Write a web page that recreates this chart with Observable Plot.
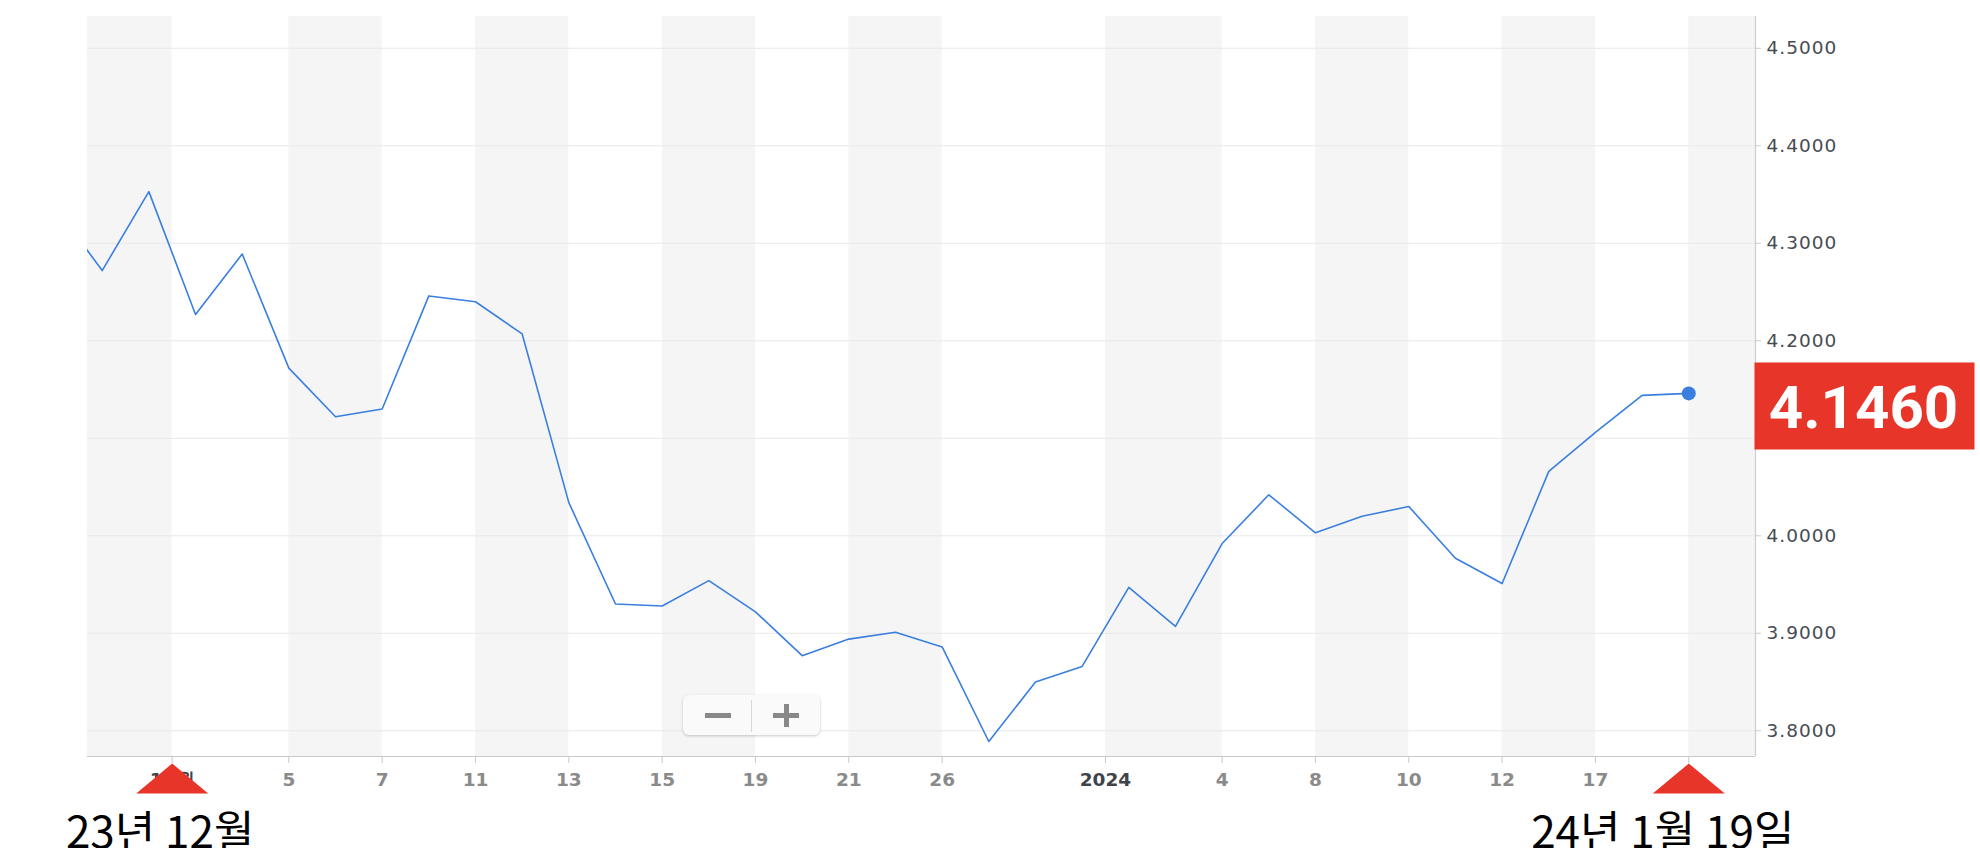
<!DOCTYPE html>
<html>
<head>
<meta charset="utf-8">
<script src="https://cdn.jsdelivr.net/npm/d3@7"></script>
<script src="https://cdn.jsdelivr.net/npm/@observablehq/plot@0.6"></script>
<style>
html,body{margin:0;padding:0;background:#fff;overflow:hidden;}
#wrap{position:relative;width:1980px;height:848px;overflow:hidden;}
#wrap svg{display:block;}
g[aria-label="y-axis tick label"] text{letter-spacing:1px;}
.zoomctl{position:absolute;left:683px;top:695px;width:137px;height:40px;background:#fafafa;border-radius:6px;box-shadow:0 1px 3px rgba(0,0,0,0.22);}
.zoomctl .div{position:absolute;left:68px;top:5px;width:1px;height:32px;background:#d8d8d8;}
.zoomctl .minus{position:absolute;left:22px;top:18px;width:26px;height:5px;background:#888;}
.zoomctl .plusH{position:absolute;left:90px;top:18px;width:26px;height:5px;background:#888;}
.zoomctl .plusV{position:absolute;left:100.5px;top:9px;width:5px;height:23px;background:#888;}
</style>
</head>
<body>
<div id="wrap"></div>
<script>
// Trading days (MM-DD), Nov 28 2023 .. Jan 19 2024
const dates = ["11-28","11-29","11-30","12-01","12-04","12-05","12-06","12-07","12-08","12-11",
  "12-12","12-13","12-14","12-15","12-18","12-19","12-20","12-21","12-22","12-26",
  "12-27","12-28","12-29","01-02","01-03","01-04","01-05","01-08","01-09","01-10",
  "01-11","01-12","01-16","01-17","01-18","01-19"];
const values = [4.337,4.272,4.353,4.227,4.289,4.172,4.122,4.130,4.246,4.240,
  4.207,4.034,3.930,3.928,3.954,3.922,3.877,3.894,3.901,3.886,
  3.789,3.850,3.866,3.947,3.907,3.992,4.042,4.003,4.020,4.030,
  3.977,3.951,4.066,4.106,4.144,4.146];
const dayTickDates = ["12-05","12-07","12-11","12-13","12-15","12-19","12-21","12-26",
  "01-04","01-08","01-10","01-12","01-17","01-19"];
const dayTickLabels = ["5","7","11","13","15","19","21","26","4","8","10","12","17","19"];
const periodLabels = ["12월","2024"];
const yTicks = [3.8,3.9,4.0,4.1,4.2,4.3,4.4,4.5];
const rangeLabels = ["23년 12월","24년 1월 19일"];

const xDomain = [0.685, 36.43];
const yDomain = [3.7736, 4.5326];

const data = dates.map((d,i)=>({i, date:d, v:values[i]}));
const last = data[data.length-1];

// month/year boundaries: between consecutive trading days of different months
const boundaryPos = [];
for (let i=1;i<dates.length;i++) if (dates[i].slice(0,2)!==dates[i-1].slice(0,2)) boundaryPos.push(i-0.5);
const dayTickPos = dayTickDates.map(d=>dates.indexOf(d));
const dayMap = new Map(dayTickPos.map((p,k)=>[p, dayTickLabels[k]]));
const perMap = new Map(boundaryPos.map((p,k)=>[p, periodLabels[k]]));

// alternating bands between ticks
const allTicks = [...boundaryPos, ...dayTickPos].sort((a,b)=>a-b);
const edges = [xDomain[0], ...allTicks, xDomain[1]];
const bands = [];
for (let k=0;k<edges.length-1;k+=2) bands.push({a:edges[k], b:edges[k+1]});

const rangeMarks = [
  {pos: boundaryPos[0], label: rangeLabels[0]},
  {pos: dates.length-1, label: rangeLabels[1]}
];

const flatTri = {draw(ctx){ ctx.moveTo(0,-15); ctx.lineTo(36,15); ctx.lineTo(-36,15); ctx.closePath(); }};
const boxSym = {draw(ctx){ ctx.rect(-1,-31,220,87); }};

const RED = "#e8352a", BLUE = "#3a7fdf";
// y labels hidden behind the current-value box
const hiddenByBox = d => d > last.v - 0.07 && d < last.v + 0.03;

const chart = Plot.plot({
  width: 1980, height: 848,
  marginLeft: 87, marginRight: 225, marginTop: 16, marginBottom: 92,
  style: {fontFamily: "DejaVu Sans", background: "#fff", overflow: "visible"},
  x: {type: "linear", domain: xDomain},
  y: {domain: yDomain},
  marks: [
    Plot.rect(bands, {x1:"a", x2:"b", fill:"#f5f5f5"}),
    Plot.ruleY(yTicks, {stroke:"#e8e8e8", strokeWidth:1}),
    Plot.ruleY([yDomain[0]], {stroke:"#c6c9cd", strokeWidth:1.2}),
    Plot.ruleX([xDomain[1]], {stroke:"#cdcdcd", strokeWidth:1.2}),
    Plot.axisY(yTicks, {anchor:"right", tickSize:5, tickPadding:6,
      tickFormat:d=>hiddenByBox(d) ? "" : d.toFixed(4),
      fontSize:18.5, fill:"#474c52", stroke:"#cdcdcd", label:null}),
    Plot.axisX(dayTickPos, {anchor:"bottom", tickSize:7, tickPadding:9, tickFormat:d=>dayMap.get(d),
      fontSize:18.5, fontWeight:"bold", fill:"#8a8a8a", stroke:"#c6c9cd", label:null}),
    Plot.axisX(boundaryPos, {anchor:"bottom", tickSize:7, tickPadding:9, tickFormat:d=>perMap.get(d),
      fontSize:18.5, fontWeight:"bold", fill:"#3f444a", stroke:"#c6c9cd", label:null}),
    Plot.line(data, {x:"i", y:"v", stroke:BLUE, strokeWidth:1.6, clip:true}),
    Plot.dot([last], {x:"i", y:"v", r:7, fill:BLUE}),
    Plot.dot([last], {y:"v", frameAnchor:"right", symbol:boxSym, fill:RED}),
    Plot.text([last], {y:"v", frameAnchor:"right", text:d=>d.v.toFixed(4), dx:108, dy:35,
      textAnchor:"middle", lineAnchor:"bottom", fill:"#fff", fontSize:60, fontWeight:"bold",
      fontFamily:"Roboto", ariaLabel:"value-label"}),
    Plot.dot(rangeMarks, {x:"pos", frameAnchor:"bottom", dy:22, symbol:flatTri, fill:RED}),
    Plot.text([rangeMarks[0]], {x:"pos", text:"label", frameAnchor:"bottom", dy:91, dx:-12,
      lineAnchor:"bottom", textAnchor:"middle", fontSize:44, fill:"#000", fontFamily:"Noto Sans CJK KR"}),
    Plot.text([rangeMarks[1]], {x:"pos", text:"label", frameAnchor:"bottom", dy:91, dx:-26,
      lineAnchor:"bottom", textAnchor:"middle", fontSize:44, fill:"#000", fontFamily:"Noto Sans CJK KR",
      ariaLabel:"range-end"})
  ]
});
const wrap = document.getElementById("wrap");
wrap.appendChild(chart);
d3.select(chart).selectAll('g[aria-label="value-label"] text').style("letter-spacing","-0.5px");
d3.select(chart).selectAll('g[aria-label="range-end"] text').style("letter-spacing","1.5px");
const ctl = document.createElement("div");
ctl.className = "zoomctl";
ctl.innerHTML = '<div class="minus"></div><div class="div"></div><div class="plusH"></div><div class="plusV"></div>';
wrap.appendChild(ctl);
</script>
</body>
</html>
